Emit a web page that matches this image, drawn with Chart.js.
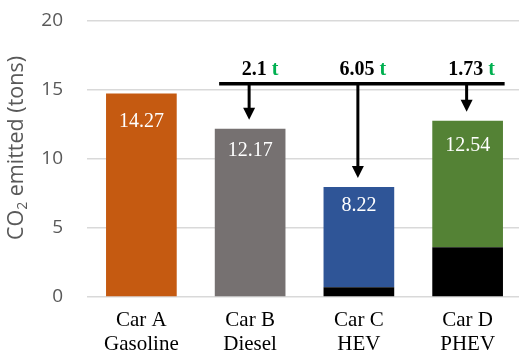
<!DOCTYPE html>
<html>
<head>
<meta charset="utf-8">
<script src="https://cdn.jsdelivr.net/npm/chart.js@4.4.1/dist/chart.umd.min.js"></script>
<style>
  html, body { margin: 0; padding: 0; background: #fff; overflow: hidden; }
  #wrap { width: 525px; height: 353px; }
</style>
</head>
<body>
<div id="wrap"><canvas id="chart"></canvas></div>
<script>
const cars = [['Car A', 'Gasoline'], ['Car B', 'Diesel'], ['Car C', 'HEV'], ['Car D', 'PHEV']];
// black base part of each bar (tons)
const baseValues = [0, 0, 0.7, 3.6];
// coloured upper part of each bar (tons)
const topValues = [14.74, 12.2, 7.28, 9.17];
const barColors = ['#c55a11', '#767171', '#2f5597', '#548235'];
// numbers written in the bars
const barLabels = ['14.27', '12.17', '8.22', '12.54'];
// savings compared with Car A, for Car B, C, D
const savings = ['2.1', '6.05', '1.73'];
const yTicks = [0, 5, 10, 15, 20];

const serif = '"Liberation Serif", "Times New Roman", serif';
const sans = '"Open Sans", "Noto Sans", sans-serif';

const overlay = {
  id: 'overlay',
  afterDatasetsDraw(chart) {
    const ctx = chart.ctx;
    const y = chart.scales.y;
    const meta = chart.getDatasetMeta(1);

    // value labels inside bars
    ctx.save();
    ctx.fillStyle = '#fff';
    ctx.font = '20px ' + serif;
    ctx.textAlign = 'center';
    ctx.textBaseline = 'middle';
    barLabels.forEach((t, i) => {
      ctx.fillText(t, meta.data[i].x, y.getPixelForValue(parseFloat(t)) + 22);
    });
    ctx.restore();

    // bracket line with arrows
    const lineY = y.getPixelForValue(15.45);
    const left = meta.data[1].x - 31;
    const right = meta.data[3].x + 37;
    ctx.save();
    ctx.strokeStyle = '#000';
    ctx.fillStyle = '#000';
    ctx.lineWidth = 3.5;
    ctx.beginPath();
    ctx.moveTo(left, lineY);
    ctx.lineTo(right, lineY);
    ctx.stroke();
    ctx.lineWidth = 3;
    for (let i = 1; i < 4; i++) {
      const ax = meta.data[i].x - 1;
      const tip = meta.data[i].y - 9;
      ctx.beginPath();
      ctx.moveTo(ax, lineY);
      ctx.lineTo(ax, tip - 10);
      ctx.stroke();
      ctx.beginPath();
      ctx.moveTo(ax - 6, tip - 12);
      ctx.lineTo(ax + 6, tip - 12);
      ctx.lineTo(ax, tip);
      ctx.closePath();
      ctx.fill();
    }

    // saving texts
    ctx.font = 'bold 20px ' + serif;
    ctx.textBaseline = 'middle';
    ctx.textAlign = 'left';
    const shifts = [10, 4, 4];
    savings.forEach((s, k) => {
      const numText = s + ' ';
      const wNum = ctx.measureText(numText).width;
      const wT = ctx.measureText('t').width;
      const cx = meta.data[k + 1].x + shifts[k];
      const sx = cx - (wNum + wT) / 2;
      const ty = lineY - 14;
      ctx.fillStyle = '#000';
      ctx.fillText(numText, sx, ty);
      ctx.fillStyle = '#00b050';
      ctx.fillText('t', sx + wNum, ty);
    });
    ctx.restore();

    // y axis title with subscript
    ctx.save();
    ctx.translate(17, 148);
    ctx.rotate(-Math.PI / 2);
    ctx.fillStyle = '#595959';
    ctx.textBaseline = 'middle';
    ctx.textAlign = 'left';
    const big = '21.5px ' + sans;
    const small = '14px ' + sans;
    ctx.font = big;
    const w1 = ctx.measureText('CO').width;
    const w3 = ctx.measureText(' emitted (tons)').width;
    ctx.font = small;
    const w2 = ctx.measureText('2').width;
    let sx = -(w1 + w2 + w3) / 2;
    ctx.font = big;
    ctx.fillText('CO', sx, 0);
    ctx.font = small;
    ctx.fillText('2', sx + w1, 6);
    ctx.font = big;
    ctx.fillText(' emitted (tons)', sx + w1 + w2, 0);
    ctx.restore();
  }
};

new Chart(document.getElementById('chart'), {
  type: 'bar',
  data: {
    labels: cars,
    datasets: [
      {
        data: baseValues,
        backgroundColor: '#000',
        borderWidth: 0,
        stack: 's'
      },
      {
        data: topValues,
        backgroundColor: barColors,
        borderWidth: 0,
        stack: 's'
      }
    ]
  },
  options: {
    responsive: true,
    maintainAspectRatio: false,
    animation: false,
    layout: { padding: { top: 21, left: 0, right: 3, bottom: 0 } },
    plugins: {
      legend: { display: false },
      tooltip: { enabled: false }
    },
    datasets: {
      bar: { categoryPercentage: 1.0, barPercentage: 0.65 }
    },
    scales: {
      x: {
        stacked: true,
        grid: { display: false },
        border: { display: false },
        afterFit: (s) => { s.height = 56; s.paddingLeft = 0; s.paddingRight = 0; },
        ticks: {
          color: '#000',
          padding: 4,
          font: { family: serif, size: 21, lineHeight: 1.12 }
        }
      },
      y: {
        stacked: true,
        min: yTicks[0],
        max: yTicks[yTicks.length - 1],
        afterBuildTicks: (s) => { s.ticks = yTicks.map(v => ({ value: v })); },
        afterFit: (s) => { s.width = 87; s.paddingTop = 0; s.paddingBottom = 0; },
        grid: { color: '#d9d9d9', lineWidth: 1.5, drawTicks: false },
        border: { display: false },
        ticks: {
          color: '#595959',
          padding: 24,
          font: { family: sans, size: 19 }
        }
      }
    }
  },
  plugins: [overlay]
});
</script>
</body>
</html>
